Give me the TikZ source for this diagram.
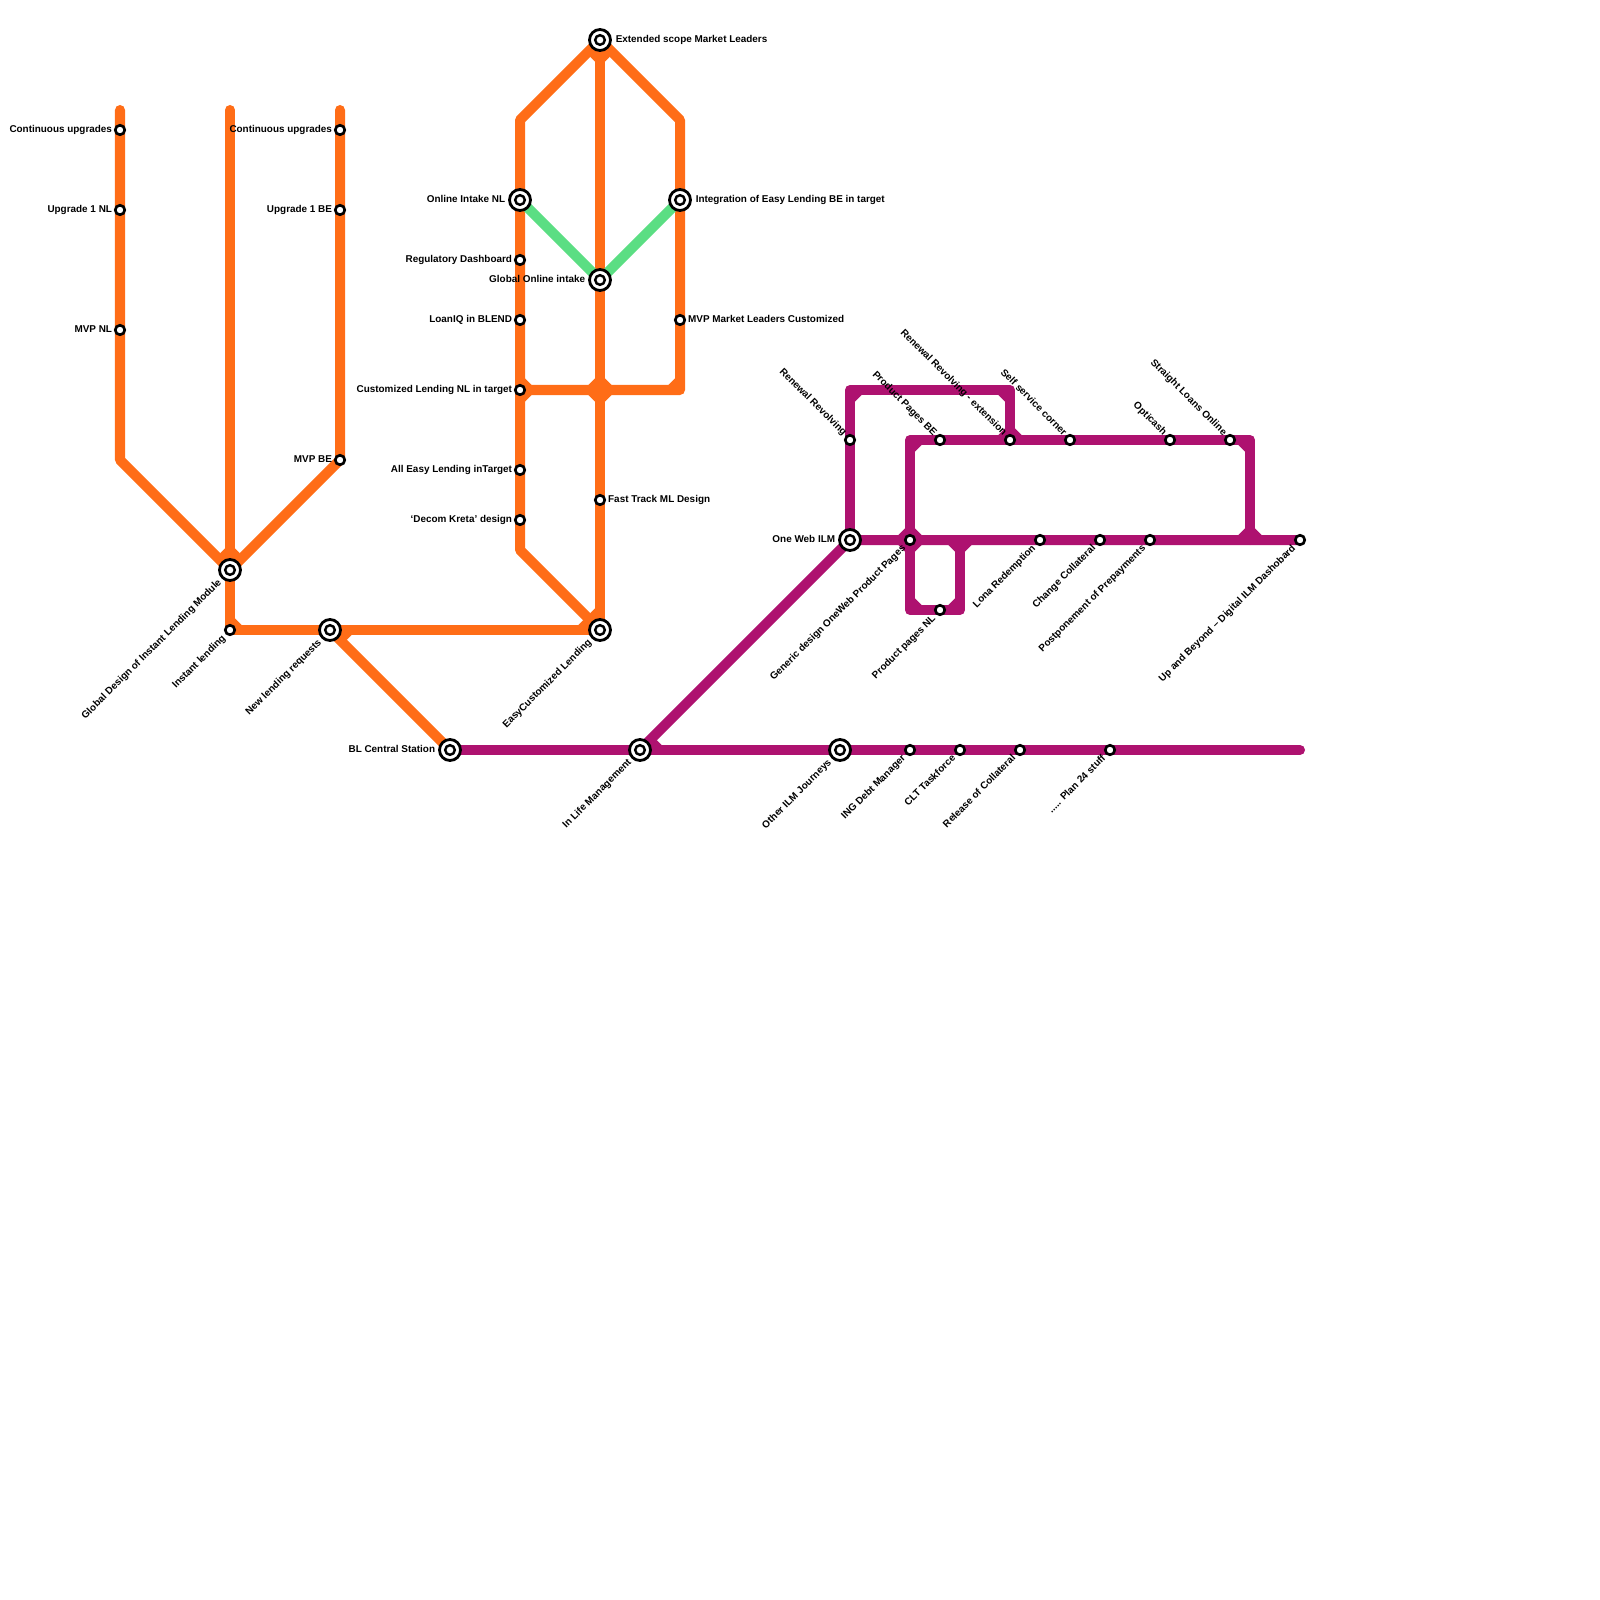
\documentclass[tikz,border=0pt]{standalone}
\usepackage{fontspec}
\setmainfont{Liberation Sans}
\usepackage{tikz}
\usepackage{xcolor}
\usetikzlibrary{positioning,backgrounds}
\definecolor{lineorange}{HTML}{FF6D17}
\definecolor{linepurple}{HTML}{AE1270}
\definecolor{linegreen}{HTML}{5BDE83}
% small wedges that fill the inner side of a junction
\newcommand{\cornerfill}[4]{\fill[#1,shift={(#2.center)}] (0,0) -- (#3*11.67,#4*5) -- (#3*5,#4*11.67) -- cycle;}
\newcommand{\hdiagfill}[4]{\fill[#1,shift={(#2.center)}] (0,0) -- (#3*21.7,#4*5) -- (#3*16.7,#4*10) -- cycle;}
\newcommand{\vdiagfill}[4]{\fill[#1,shift={(#2.center)}] (0,0) -- (#3*5,#4*21.7) -- (#3*10,#4*16.7) -- cycle;}

\begin{document}
\begin{tikzpicture}[x=0.01cm,y=-0.01cm]
\tikzset{
	stop/.style={
		circle,
		draw=black,
		fill=white,
		line width=0.75pt,
		minimum size=0.095cm,
		inner sep=0pt
	},
	hub/.style={
		stop,
		line width=0.8pt,
		minimum size=0.21cm,
		path picture={\draw[line width=0.7pt] (path picture bounding box.center) circle (0.048cm);}
	},
	tag/.style={
		font=\bfseries\fontsize{2.82}{3.4}\selectfont,
		text height=2.1pt,
		text depth=0.7pt,
		inner sep=0pt
	},
	tagsw/.style={tag,rotate=45,anchor=east,xshift=-0.7pt,yshift=-0.3pt},
	tagnw/.style={tag,rotate=-45,anchor=east,xshift=-0.3pt,yshift=0.1pt},
	metro/.style={line width=0.1cm,line cap=round,line join=round},
	orangeline/.style={metro,draw=lineorange},
	purpleline/.style={metro,draw=linepurple},
	greenline/.style={metro,draw=linegreen}
}
\useasboundingbox (0,0) rectangle (1600,1600);

% orange stations
\node[stop] (contNL) at (120,130) {};
\node[stop] (upgNL) at (120,210) {};
\node[stop] (mvpNL) at (120,330) {};
\node[stop] (contBE) at (340,130) {};
\node[stop] (upgBE) at (340,210) {};
\node[stop] (mvpBE) at (340,460) {};
\node[hub] (globalDesign) at (230,570) {};
\node[stop] (instant) at (230,630) {};
\node[hub] (newReq) at (330,630) {};
\node[hub] (easyCust) at (600,630) {};
\node[hub] (extended) at (600,40) {};
\node[hub] (intakeNL) at (520,200) {};
\node[stop] (regDash) at (520,260) {};
\node[stop] (loanIQ) at (520,320) {};
\node[stop] (custNL) at (520,390) {};
\node[stop] (allEasy) at (520,470) {};
\node[stop] (decom) at (520,520) {};
\node[hub] (globalIntake) at (600,280) {};
\node[stop] (fastTrack) at (600,500) {};
\node[hub] (integration) at (680,200) {};
\node[stop] (mvpML) at (680,320) {};

% purple stations
\node[hub] (central) at (450,750) {};
\node[hub] (inLife) at (640,750) {};
\node[hub] (otherILM) at (840,750) {};
\node[stop] (debtMgr) at (910,750) {};
\node[stop] (clt) at (960,750) {};
\node[stop] (release) at (1020,750) {};
\node[stop] (plan24) at (1110,750) {};
\node[hub] (oneWeb) at (850,540) {};
\node[stop] (generic) at (910,540) {};
\node[stop] (lona) at (1040,540) {};
\node[stop] (change) at (1100,540) {};
\node[stop] (postpone) at (1150,540) {};
\node[stop] (beyond) at (1300,540) {};
\node[stop] (pagesNL) at (940,610) {};
\node[stop] (renewal) at (850,440) {};
\node[stop] (pagesBE) at (940,440) {};
\node[stop] (renewalExt) at (1010,440) {};
\node[stop] (selfService) at (1070,440) {};
\node[stop] (opticash) at (1170,440) {};
\node[stop] (straight) at (1230,440) {};

% free line ends and bends
\coordinate (endA) at (120,110);
\coordinate (bendA) at (120,460);
\coordinate (endB) at (230,110);
\coordinate (endC) at (340,110);
\coordinate (bendL) at (520,120);
\coordinate (bendR) at (680,120);
\coordinate (bendS) at (520,550);
\coordinate (crossing) at (600,390);
\coordinate (bendT) at (680,390);
\coordinate (endD) at (1300,750);
\coordinate (bendU) at (850,390);
\coordinate (bendV) at (1010,390);
\coordinate (bendW) at (910,440);
\coordinate (bendX) at (1250,440);
\coordinate (teeX) at (1250,540);
\coordinate (bendY) at (910,610);
\coordinate (bendZ) at (960,610);
\coordinate (teeZ) at (960,540);

\begin{scope}[on background layer]
	\draw[orangeline] (endA) -- (bendA) -- (globalDesign.center);
	\draw[orangeline] (endC) -- (mvpBE.center) -- (globalDesign.center);
	\draw[orangeline] (endB) -- (instant.center) -- (easyCust.center);
	\draw[orangeline] (newReq.center) -- (central.center);
	\draw[orangeline] (extended.center) -- (easyCust.center);
	\draw[orangeline] (easyCust.center) -- (bendS) -- (bendL) -- (extended.center) -- (bendR) -- (bendT) -- (custNL.center);
	\draw[greenline] (intakeNL.center) -- (globalIntake.center) -- (integration.center);
	\draw[purpleline] (central.center) -- (endD);
	\draw[purpleline] (inLife.center) -- (oneWeb.center) -- (beyond.center);
	\draw[purpleline] (oneWeb.center) -- (bendU) -- (bendV) -- (renewalExt.center);
	\draw[purpleline] (teeX) -- (bendX) -- (bendW) -- (bendY) -- (bendZ) -- (teeZ);

	\cornerfill{lineorange}{instant}{1}{-1}
	\cornerfill{lineorange}{custNL}{1}{-1}
	\cornerfill{lineorange}{custNL}{1}{1}
	\cornerfill{lineorange}{crossing}{1}{1}
	\cornerfill{lineorange}{crossing}{1}{-1}
	\cornerfill{lineorange}{crossing}{-1}{1}
	\cornerfill{lineorange}{crossing}{-1}{-1}
	\cornerfill{lineorange}{bendT}{-1}{-1}
	\hdiagfill{lineorange}{newReq}{1}{1}
	\hdiagfill{lineorange}{easyCust}{-1}{-1}
	\vdiagfill{lineorange}{easyCust}{-1}{-1}
	\vdiagfill{lineorange}{extended}{-1}{1}
	\vdiagfill{lineorange}{extended}{1}{1}
	\vdiagfill{lineorange}{globalDesign}{-1}{-1}
	\vdiagfill{lineorange}{globalDesign}{1}{-1}

	\hdiagfill{linepurple}{inLife}{1}{-1}
	\cornerfill{linepurple}{bendU}{1}{1}
	\cornerfill{linepurple}{bendV}{-1}{1}
	\cornerfill{linepurple}{renewalExt}{1}{-1}
	\cornerfill{linepurple}{renewalExt}{-1}{-1}
	\cornerfill{linepurple}{bendW}{1}{1}
	\cornerfill{linepurple}{generic}{1}{1}
	\cornerfill{linepurple}{generic}{1}{-1}
	\cornerfill{linepurple}{generic}{-1}{1}
	\cornerfill{linepurple}{generic}{-1}{-1}
	\cornerfill{linepurple}{teeZ}{1}{1}
	\cornerfill{linepurple}{teeZ}{-1}{1}
	\cornerfill{linepurple}{bendY}{1}{-1}
	\cornerfill{linepurple}{bendZ}{-1}{-1}
	\cornerfill{linepurple}{bendX}{-1}{1}
	\cornerfill{linepurple}{teeX}{1}{-1}
	\cornerfill{linepurple}{teeX}{-1}{-1}
\end{scope}

% labels
\node[tag,left=0.35pt of contNL] (contNLtxt) {Continuous upgrades};
\node[tag,left=0.35pt of upgNL] (upgNLtxt) {Upgrade 1 NL};
\node[tag,left=0.35pt of mvpNL] (mvpNLtxt) {MVP NL};
\node[tag,left=0.35pt of contBE] (contBEtxt) {Continuous upgrades};
\node[tag,left=0.35pt of upgBE] (upgBEtxt) {Upgrade 1 BE};
\node[tag,left=0.35pt of mvpBE] (mvpBEtxt) {MVP BE};
\node[tag,left=0.65pt of intakeNL] (intakeNLtxt) {Online Intake NL};
\node[tag,left=0.35pt of regDash] (regDashtxt) {Regulatory Dashboard};
\node[tag,left=0.65pt of globalIntake] (globalIntaketxt) {Global Online intake};
\node[tag,left=0.35pt of loanIQ] (loanIQtxt) {LoanIQ in BLEND};
\node[tag,left=0.35pt of custNL] (custNLtxt) {Customized Lending NL in target};
\node[tag,left=0.35pt of allEasy] (allEasytxt) {All Easy Lending inTarget};
\node[tag,left=0.35pt of decom] (decomtxt) {‘Decom Kreta’ design};
\node[tag,left=0.65pt of central] (centraltxt) {BL Central Station};
\node[tag,left=0.65pt of oneWeb] (oneWebtxt) {One Web ILM};
\node[tag,right=0.9pt of extended] (extendedtxt) {Extended scope Market Leaders};
\node[tag,right=0.9pt of integration] (integrationtxt) {Integration of Easy Lending BE in target};
\node[tag,right=0.4pt of mvpML] (mvpMLtxt) {MVP Market Leaders Customized};
\node[tag,right=0.4pt of fastTrack] (fastTracktxt) {Fast Track ML Design};

\node[tagsw] (globalDesigntxt) at (globalDesign.south west) {Global Design of Instant Lending Module};
\node[tagsw] (instanttxt) at (instant.south west) {Instant lending};
\node[tagsw] (newReqtxt) at (newReq.south west) {New lending requests};
\node[tagsw] (easyCusttxt) at (easyCust.south west) {EasyCustomized Lending};
\node[tagsw] (inLifetxt) at (inLife.south west) {In Life Management};
\node[tagsw] (otherILMtxt) at (otherILM.south west) {Other ILM Journeys};
\node[tagsw] (debtMgrtxt) at (debtMgr.south west) {ING Debt Manager};
\node[tagsw] (clttxt) at (clt.south west) {CLT Taskforce};
\node[tagsw] (releasetxt) at (release.south west) {Release of Collateral};
\node[tagsw] (plan24txt) at (plan24.south west) {..... Plan 24 stuff};
\node[tagsw] (generictxt) at (generic.south west) {Generic design OneWeb Product Pages};
\node[tagsw] (pagesNLtxt) at (pagesNL.south west) {Product pages NL};
\node[tagsw] (lonatxt) at (lona.south west) {Lona Redemption};
\node[tagsw] (changetxt) at (change.south west) {Change Collateral};
\node[tagsw] (postponetxt) at (postpone.south west) {Postponement of Prepayments};
\node[tagsw] (beyondtxt) at (beyond.south west) {Up and Beyond -- Digital ILM Dashobard};

\node[tagnw] (renewaltxt) at (renewal.north west) {Renewal Revolving};
\node[tagnw] (pagesBEtxt) at (pagesBE.north west) {Product Pages BE};
\node[tagnw] (renewalExttxt) at (renewalExt.north west) {Renewal Revolving - extension};
\node[tagnw] (selfServicetxt) at (selfService.north west) {Self service corner};
\node[tagnw] (opticashtxt) at (opticash.north west) {Opticash};
\node[tagnw] (straighttxt) at (straight.north west) {Straight Loans Online};
\end{tikzpicture}
\end{document}
